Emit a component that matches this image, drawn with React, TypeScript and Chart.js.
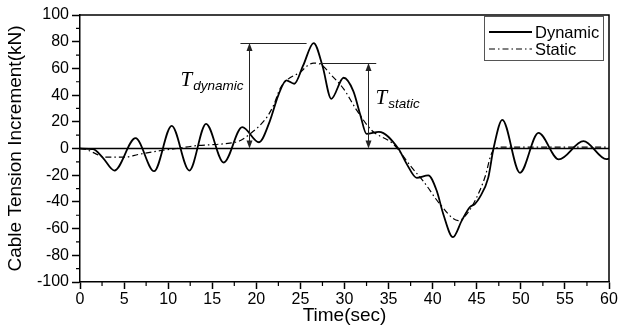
import React, { useEffect, useRef } from 'react';
import { Chart, registerables } from 'chart.js';

Chart.register(...registerables);

// ---- data ----
const dynamicTime = [0, 1.5, 2.6, 3.9, 6.3, 8.4, 10.4, 12.4, 14.3, 16.3, 18.4, 20.3, 21.5, 22.5, 23.4, 24.3, 25.3, 26.5, 27.5, 28.5, 29.9, 31.0, 31.8, 32.5, 33.9, 36.1, 37.05, 38.2, 39.5, 40.45, 41.2, 42.3, 43.3, 44.2, 44.8, 45.3, 46.3, 46.9, 47.9, 49.9, 52.0, 54.3, 57.1, 59.7, 60];
const dynamicValue = [0, -0.5, -7, -16.5, 7.7, -17, 17, -16.5, 18.5, -10.5, 16, 4.7, 20, 40, 51, 48.5, 62, 79, 62, 37.2, 53, 43, 25, 11, 12.5, 0, -11.5, -22, -20.2, -31.5, -49, -66.4, -54, -44, -41.4, -37, -22, 0, 21.5, -18.2, 11.7, -8.2, 5.5, -8, -7.5];

const staticTime = [0, 0.8, 1.8, 2.8, 5.1, 6.6, 9.2, 11, 13, 15.3, 17, 18.2, 19.3, 20.2, 21.2, 22, 22.7, 23.6, 24.95, 25.8, 26.5, 27.2, 28.5, 29.9, 31.4, 33.1, 35.5, 37.6, 39.0, 40.8, 42.9, 44.0, 45.0, 46.0, 46.6, 47.2, 48, 60];
const staticValue = [0, -1, -4, -6.5, -6.5, -4.5, -1.5, 0, 2, 3, 4, 6, 11, 16, 23.5, 33, 45, 52, 57, 62, 64, 63.4, 55, 44.7, 28.5, 13.5, 3.5, -14, -25, -41.4, -54, -48, -36.5, -20, -5, 0.5, 1, 1];

const seriesLabels = ['Dynamic', 'Static'];

const xTickMin = 0, xTickMax = 60, xTickStep = 5;
const yTickMin = -100, yTickMax = 100, yTickStep = 20;

// annotations (data units)
const annotArrowTime = [19.2, 32.7];
const annotPeak = [79, 64];
const annotBarStart = [18.2, 27.2];
const annotBarEnd = [25.7, 33.6];
const annotSubscript = ['dynamic', 'static'];
const annotLabelValue = [46.7, 33.5];
const annotLabelSide = ['left', 'right'];

const SANS = '"Liberation Sans", Arial, sans-serif';
const SERIF = '"Liberation Serif", "Times New Roman", serif';

export default function App() {
  const ref = useRef<HTMLCanvasElement>(null);

  useEffect(() => {
    const canvas = ref.current;
    if (!canvas) return;
    const toPts = (xs: number[], ys: number[]) => xs.map((x, i) => ({ x, y: ys[i] }));

    const arrowHead = (ctx: CanvasRenderingContext2D, x: number, tipY: number, dir: number) => {
      ctx.beginPath();
      ctx.moveTo(x, tipY);
      ctx.lineTo(x - 3, tipY + dir * 8);
      ctx.lineTo(x + 3, tipY + dir * 8);
      ctx.closePath();
      ctx.fill();
    };

    const plugin = {
      id: 'originStyle',
      beforeDatasetsDraw(chart: any) {
        const { ctx, chartArea: a, scales } = chart;
        const y0 = scales.y.getPixelForValue(0);
        ctx.save();
        ctx.strokeStyle = '#000';
        ctx.lineWidth = 1.5;
        ctx.beginPath();
        ctx.moveTo(a.left, y0);
        ctx.lineTo(a.right, y0);
        ctx.stroke();
        ctx.restore();
      },
      afterDatasetsDraw(chart: any) {
        const { ctx, scales } = chart;
        const xs = scales.x, ys = scales.y;
        ctx.save();
        ctx.strokeStyle = '#222';
        ctx.fillStyle = '#222';
        ctx.lineWidth = 1;
        for (let i = 0; i < annotArrowTime.length; i++) {
          const ax = Math.round(xs.getPixelForValue(annotArrowTime[i])) + 0.5;
          const yTop = ys.getPixelForValue(annotPeak[i]);
          const yBot = ys.getPixelForValue(0);
          ctx.beginPath();
          ctx.moveTo(xs.getPixelForValue(annotBarStart[i]), Math.round(yTop) + 0.5);
          ctx.lineTo(xs.getPixelForValue(annotBarEnd[i]), Math.round(yTop) + 0.5);
          ctx.stroke();
          ctx.beginPath();
          ctx.moveTo(ax, yTop + 4);
          ctx.lineTo(ax, yBot - 4);
          ctx.stroke();
          arrowHead(ctx, ax, yTop, 1);
          arrowHead(ctx, ax, yBot, -1);

          // label
          const base = ys.getPixelForValue(annotLabelValue[i]);
          ctx.fillStyle = '#000';
          ctx.textBaseline = 'alphabetic';
          ctx.textAlign = 'left';
          ctx.font = `italic 21px ${SERIF}`;
          const tW = ctx.measureText('T').width + 1;
          ctx.font = `italic 13.5px ${SANS}`;
          const sW = ctx.measureText(annotSubscript[i]).width;
          let startX;
          if (annotLabelSide[i] === 'left') startX = ax - 6 - sW - tW;
          else startX = ax + 7;
          ctx.font = `italic 21px ${SERIF}`;
          ctx.fillText('T', startX, base);
          ctx.font = `italic 13.5px ${SANS}`;
          ctx.fillText(annotSubscript[i], startX + tW, base + 4);
          ctx.fillStyle = '#222';
        }
        ctx.restore();
      },
      afterDraw(chart: any) {
        const { ctx, chartArea: a, scales } = chart;
        const xs = scales.x, ys = scales.y;
        ctx.save();
        // frame top/right
        ctx.strokeStyle = '#000';
        ctx.lineWidth = 1.5;
        ctx.beginPath();
        ctx.moveTo(a.left, a.top);
        ctx.lineTo(a.right, a.top);
        ctx.lineTo(a.right, a.bottom);
        ctx.stroke();
        // minor ticks
        ctx.lineWidth = 1.2;
        ctx.beginPath();
        for (let v = xTickMin + xTickStep / 2; v < xTickMax; v += xTickStep) {
          const px = xs.getPixelForValue(v);
          ctx.moveTo(px, a.bottom);
          ctx.lineTo(px, a.bottom + 4);
        }
        for (let v = yTickMin + yTickStep / 2; v < yTickMax; v += yTickStep) {
          const py = ys.getPixelForValue(v);
          ctx.moveTo(a.left, py);
          ctx.lineTo(a.left - 4, py);
        }
        ctx.stroke();

        // legend
        const bw = 119, bh = 44;
        const bx = a.right - 6 - bw;
        const by = a.top + 1;
        ctx.fillStyle = '#fff';
        ctx.fillRect(bx, by, bw, bh);
        ctx.strokeStyle = '#555';
        ctx.lineWidth = 1;
        ctx.strokeRect(bx + 0.5, by + 0.5, bw, bh);
        chart.data.datasets.forEach((ds: any, i: number) => {
          const ry = by + 16 + i * 17;
          ctx.strokeStyle = ds.borderColor;
          ctx.lineWidth = ds.borderWidth;
          ctx.setLineDash(ds.borderDash || []);
          ctx.beginPath();
          ctx.moveTo(bx + 5, ry);
          ctx.lineTo(bx + 48, ry);
          ctx.stroke();
          ctx.setLineDash([]);
          ctx.fillStyle = '#000';
          ctx.font = `16.5px ${SANS}`;
          ctx.textBaseline = 'middle';
          ctx.textAlign = 'left';
          ctx.fillText(ds.label, bx + 51, ry + 1);
        });
        ctx.restore();
      },
    };

    const chart = new Chart(canvas, {
      type: 'line',
      data: {
        datasets: [
          {
            label: seriesLabels[0],
            data: toPts(dynamicTime, dynamicValue),
            borderColor: '#000',
            borderWidth: 1.8,
            pointRadius: 0,
            cubicInterpolationMode: 'monotone',
            fill: false,
          },
          {
            label: seriesLabels[1],
            data: toPts(staticTime, staticValue),
            borderColor: '#000',
            borderWidth: 1.2,
            borderDash: [6, 3, 1.5, 3],
            pointRadius: 0,
            cubicInterpolationMode: 'monotone',
            fill: false,
          },
        ],
      },
      options: {
        responsive: false,
        animation: false,
        layout: { padding: { top: 15, right: 10, left: 0, bottom: 0 } },
        plugins: { legend: { display: false }, tooltip: { enabled: false } },
        scales: {
          x: {
            type: 'linear',
            min: xTickMin,
            max: xTickMax,
            afterFit: (s: any) => { s.height = 48; },
            ticks: { stepSize: xTickStep, color: '#000', font: { family: SANS, size: 16 }, padding: 1, maxRotation: 0 },
            grid: { drawOnChartArea: false, drawTicks: true, tickLength: 7, tickColor: '#000', tickWidth: 1.5 },
            border: { display: true, color: '#000', width: 1.5 },
            title: { display: true, text: 'Time(sec)', color: '#000', font: { family: SANS, size: 19 }, padding: { top: 0, bottom: 3 } },
          },
          y: {
            type: 'linear',
            min: yTickMin,
            max: yTickMax,
            afterFit: (s: any) => { s.width = 80; },
            ticks: { stepSize: yTickStep, color: '#000', font: { family: SANS, size: 16 }, padding: 3 },
            grid: { drawOnChartArea: false, drawTicks: true, tickLength: 8, tickColor: '#000', tickWidth: 1.5 },
            border: { display: true, color: '#000', width: 1.5 },
            title: { display: true, text: 'Cable Tension Increment(kN)', color: '#000', font: { family: SANS, size: 19 }, padding: { top: 4, bottom: 0 } },
          },
        },
      },
      plugins: [plugin],
    } as any);

    return () => chart.destroy();
  }, []);

  return (
    <div style={{ position: 'absolute', left: 0, top: 0, width: 619, height: 330, background: '#fff' }}>
      <canvas ref={ref} width={619} height={330} style={{ display: 'block' }} />
    </div>
  );
}
